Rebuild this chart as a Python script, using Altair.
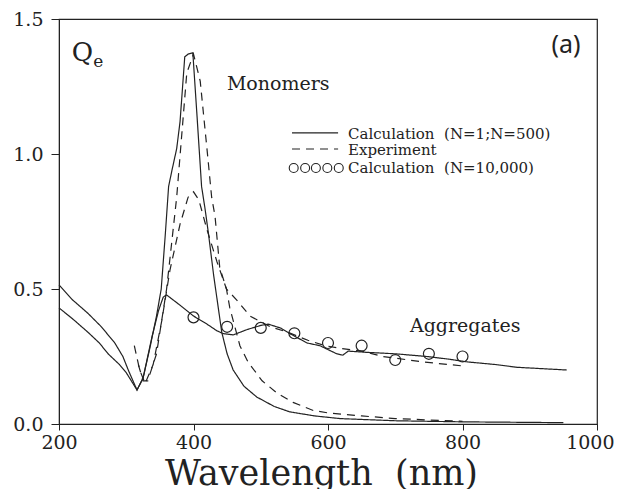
import altair as alt
import pandas as pd

# ---- data ----
mono_calc_lam = [200, 220, 243, 260, 273, 290, 300, 310, 316, 325, 335, 345, 352, 358, 363, 368, 375, 380, 387, 392, 399, 405, 412, 417, 422, 430, 442, 450, 459, 475, 494, 520, 543, 580, 618, 700, 800, 950]
mono_calc_q = [0.43, 0.39, 0.34, 0.30, 0.26, 0.22, 0.19, 0.15, 0.126, 0.17, 0.28, 0.40, 0.50, 0.70, 0.88, 0.94, 1.02, 1.12, 1.36, 1.37, 1.375, 1.15, 0.88, 0.80, 0.71, 0.55, 0.34, 0.26, 0.20, 0.14, 0.10, 0.065, 0.045, 0.03, 0.02, 0.012, 0.008, 0.005]

agg_calc_lam = [200, 220, 243, 263, 283, 295, 303, 310, 316, 325, 338, 348, 355, 360, 380, 400, 420, 435, 444, 459, 480, 500, 511, 530, 543, 569, 588, 613, 622, 630, 660, 700, 747, 780, 807, 850, 881, 955]
agg_calc_q = [0.515, 0.46, 0.41, 0.36, 0.30, 0.25, 0.20, 0.16, 0.126, 0.17, 0.32, 0.42, 0.47, 0.478, 0.44, 0.40, 0.37, 0.345, 0.335, 0.33, 0.35, 0.365, 0.37, 0.355, 0.335, 0.30, 0.29, 0.26, 0.255, 0.27, 0.265, 0.26, 0.25, 0.24, 0.23, 0.22, 0.21, 0.20]

mono_exp_lam = [318, 325, 332, 345, 360, 375, 390, 400, 410, 420, 427, 432, 439, 449, 454, 469, 481, 502, 524, 548, 578, 603, 650, 700, 750, 800]
mono_exp_q = [0.22, 0.16, 0.16, 0.26, 0.50, 0.84, 1.30, 1.37, 1.27, 1.02, 0.84, 0.77, 0.58, 0.50, 0.43, 0.29, 0.23, 0.16, 0.115, 0.08, 0.05, 0.04, 0.03, 0.02, 0.015, 0.01]

agg_exp_lam = [312, 320, 328, 340, 353, 365, 380, 392, 400, 408, 420, 435, 449, 464, 484, 514, 540, 570, 596, 618, 650, 682, 741, 800]
agg_exp_q = [0.29, 0.20, 0.15, 0.22, 0.385, 0.57, 0.74, 0.84, 0.86, 0.83, 0.72, 0.60, 0.50, 0.46, 0.40, 0.36, 0.34, 0.31, 0.29, 0.28, 0.27, 0.25, 0.23, 0.215]

circ_lam = [400, 450, 500, 550, 600, 650, 700, 750, 800]
circ_q = [0.395, 0.36, 0.356, 0.336, 0.30, 0.29, 0.237, 0.26, 0.25]

x_ticks = [200, 400, 600, 800, 1000]
y_ticks = [0.0, 0.5, 1.0, 1.5]

legend_labels = ["Calculation \u00a0(N=1;N=500)", "Experiment", "Calculation \u00a0(N=10,000)"]

# ---- tables ----
rows = []
for name, style, lams, qs in [
    ("mono_calc", "solid", mono_calc_lam, mono_calc_q),
    ("agg_calc", "solid", agg_calc_lam, agg_calc_q),
    ("mono_exp", "dashed", mono_exp_lam, mono_exp_q),
    ("agg_exp", "dashed", agg_exp_lam, agg_exp_q),
]:
    for i, (l, q) in enumerate(zip(lams, qs)):
        rows.append({"lam": l, "q": q, "curve": name, "style": style, "order": i})
lines_df = pd.DataFrame(rows)
circ_df = pd.DataFrame({"lam": circ_lam, "q": circ_q})

# legend keys (in data units)
leg_line_df = pd.DataFrame({
    "lam": [546.5, 615, 546.5, 615],
    "q": [1.078, 1.078, 1.0185, 1.0185],
    "curve": ["s", "s", "d", "d"],
    "style": ["solid", "solid", "dashed", "dashed"],
})
leg_circ_df = pd.DataFrame({"lam": [549, 566, 582, 599, 616], "q": [0.948] * 5})
leg_text_df = pd.DataFrame({"lam": [629.7] * 3, "q": [1.0556, 0.9963, 0.9296], "text": legend_labels})

FONT = "DejaVu Serif"
INK = "#222222"

xs = alt.Scale(domain=[200, 1000], nice=False, zero=False)
ys = alt.Scale(domain=[0, 1.5], nice=False)

last_tick = "datum.value >= 1000"
x_enc = alt.X("lam:Q", scale=xs, axis=alt.Axis(
    values=x_ticks, format="d", title="Wavelength \u00a0(nm)", grid=False,
    labelFont=FONT, labelFontSize=19, labelColor=INK, labelPadding=3, labelFlush=False,
    labelAlign={"condition": {"test": last_tick, "value": "right"}, "value": "center"},
    labelOffset={"condition": {"test": last_tick, "value": 17}, "value": 0},
    tickSize=6, tickColor=INK, domainColor=INK,
    titleFont=FONT, titleFontSize=35, titleFontWeight="normal", titleColor=INK,
    titleBaseline="alphabetic", titleY=60, titleX=262, titleAlign="center"))
y_enc = alt.Y("q:Q", scale=ys, axis=alt.Axis(
    values=y_ticks, format=".1f", title=None, grid=False,
    labelFont=FONT, labelFontSize=19, labelColor=INK, labelPadding=8, labelFlush=False,
    tickSize=8, tickColor=INK, domainColor=INK))

dash_scale = alt.Scale(domain=["solid", "dashed"], range=[[1, 0], [8, 6]])

lines = alt.Chart(lines_df).mark_line(strokeWidth=1.2, color=INK).encode(
    x=x_enc, y=y_enc, detail="curve:N", order="order:Q",
    strokeDash=alt.StrokeDash("style:N", scale=dash_scale, legend=None))

circles = alt.Chart(circ_df).mark_point(shape="circle", size=120, filled=False, color=INK, strokeWidth=1.2, opacity=1).encode(
    x="lam:Q", y="q:Q")

leg_lines = alt.Chart(leg_line_df).mark_line(strokeWidth=1.2, color=INK).encode(
    x="lam:Q", y="q:Q", detail="curve:N",
    strokeDash=alt.StrokeDash("style:N", scale=dash_scale, legend=None))
leg_circ = alt.Chart(leg_circ_df).mark_point(shape="circle", size=80, filled=False, color=INK, strokeWidth=1.1, opacity=1).encode(
    x="lam:Q", y="q:Q")
leg_text = alt.Chart(leg_text_df).mark_text(font=FONT, fontSize=15, align="left", baseline="alphabetic", color=INK).encode(
    x="lam:Q", y="q:Q", text="text:N")

def label(lam, q, text, size, font=FONT, align="left"):
    df = pd.DataFrame({"lam": [lam], "q": [q], "text": [text]})
    return alt.Chart(df).mark_text(font=font, fontSize=size, align=align, baseline="alphabetic", color=INK).encode(
        x="lam:Q", y="q:Q", text="text:N")

annots = [
    label(219, 1.344, "Q", 26),
    label(251, 1.322, "e", 17),
    label(954, 1.375, "(a)", 25, font="Noto Sans", align="center"),
    label(526, 1.237, "Monomers", 19, align="center"),
    label(804, 0.34, "Aggregates", 19, align="center"),
]

chart = alt.layer(lines, circles, leg_lines, leg_circ, leg_text, *annots).properties(
    width=538, height=405,
    padding={"left": 51, "top": 11, "right": 18, "bottom": 70},
    autosize=alt.AutoSizeParams(type="none"),
    background="white",
).configure_view(stroke=INK, strokeWidth=1.2).configure_text(font=FONT)

chart.save("out.html", embed_options={"renderer": "svg", "actions": False})
